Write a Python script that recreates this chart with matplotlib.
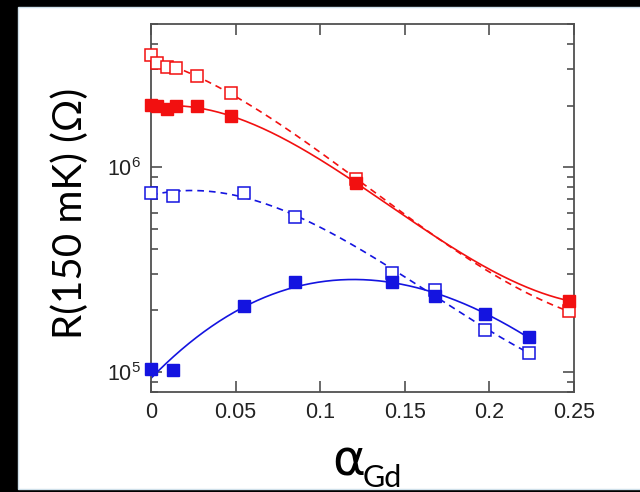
import numpy as np
import matplotlib
matplotlib.use('Agg')
import matplotlib.pyplot as plt
from matplotlib.patches import Rectangle
from matplotlib.ticker import LogLocator, NullFormatter, FixedLocator

plt.rcParams['font.family'] = ['Liberation Sans', 'DejaVu Sans']

# alpha_Gd values (x) and R(150 mK) in Ohm
x_red = [0.0, 0.0035, 0.0093, 0.0148, 0.0272, 0.0470, 0.121, 0.247]
r_red_open = [3.54e6, 3.24e6, 3.09e6, 3.05e6, 2.80e6, 2.31e6, 8.8e5, 1.98e5]
r_red_filled = [2.01e6, 1.99e6, 1.92e6, 1.99e6, 1.99e6, 1.78e6, 8.4e5, 2.23e5]

x_blue = [0.0, 0.0130, 0.0552, 0.0852, 0.1424, 0.1680, 0.1976, 0.2234]
r_blue_open = [7.48e5, 7.27e5, 7.48e5, 5.7e5, 3.03e5, 2.51e5, 1.60e5, 1.24e5]
r_blue_filled = [1.04e5, 1.02e5, 2.11e5, 2.74e5, 2.74e5, 2.36e5, 1.92e5, 1.49e5]

x_ticks = [0, 0.05, 0.1, 0.15, 0.2, 0.25]
x_ticklabels = ['0', '0.05', '0.1', '0.15', '0.2', '0.25']

red = '#f21010'
blue = '#1414e0'


def fit_line(x, y, deg=3):
    # smooth guide line: polynomial fit in log space
    c = np.polyfit(x, np.log10(y), deg)
    xs = np.linspace(min(x), max(x), 300)
    return xs, 10 ** np.polyval(c, xs)


fig = plt.figure(figsize=(6.4, 4.92), dpi=100)
fig.patch.set_facecolor('black')
fig.add_artist(Rectangle((18 / 640, 3 / 492), 1, 482 / 492,
                         transform=fig.transFigure, facecolor='white',
                         edgecolor='#cfe0ea', lw=1, zorder=0))

ax = fig.add_axes([151 / 640, 1 - 392 / 492, 423 / 640, 368 / 492])
ax.set_yscale('log')

for x, y, col, ls in [(x_red, r_red_open, red, '--'), (x_red, r_red_filled, red, '-'),
                      (x_blue, r_blue_open, blue, '--'), (x_blue, r_blue_filled, blue, '-')]:
    xs, ys = fit_line(x, y)
    line, = ax.plot(xs, ys, color=col, lw=1.2, ls=ls)
    if ls == '--':
        line.set_dashes((4, 3))

ax.plot(x_red, r_red_open, 's', ms=8, mfc='white', mec=red, mew=1.1, ls='none', clip_on=False, zorder=4)
ax.plot(x_red, r_red_filled, 's', ms=8, mfc=red, mec=red, ls='none', clip_on=False, zorder=4)
ax.plot(x_blue, r_blue_open, 's', ms=8, mfc='white', mec=blue, mew=1.1, ls='none', clip_on=False, zorder=4)
ax.plot(x_blue, r_blue_filled, 's', ms=8, mfc=blue, mec=blue, ls='none', clip_on=False, zorder=4)

ax.set_xlim(0, 0.25)
ax.set_ylim(8e4, 5e6)
ax.xaxis.set_major_locator(FixedLocator(x_ticks))
ax.set_xticklabels(x_ticklabels)
ax.yaxis.set_major_locator(LogLocator(base=10))
ax.yaxis.set_minor_locator(LogLocator(base=10, subs=np.arange(2, 10)))
ax.yaxis.set_minor_formatter(NullFormatter())

for s in ax.spines.values():
    s.set_color('#505050')
    s.set_linewidth(1.3)
ax.tick_params(which='both', direction='in', top=True, right=True,
               color='#505050', width=1.2, labelsize=15.5, labelcolor='#222222')
ax.tick_params(which='major', length=8, pad=7)
ax.tick_params(which='minor', length=5)

fig.text(70 / 640, 1 - 213 / 492, 'R(150 mK) (Ω)', rotation=90,
         ha='center', va='center', fontsize=29, family=['Lato', 'DejaVu Sans'])
fig.text(349 / 640, 1 - 462 / 492, 'α', ha='center', va='center',
         fontsize=36, family=['DejaVu Sans'])
fig.text(363 / 640, 1 - 478 / 492, 'Gd', ha='left', va='center',
         fontsize=22, family=['Lato', 'DejaVu Sans'])

fig.savefig('out.png', dpi=100, facecolor=fig.get_facecolor())
